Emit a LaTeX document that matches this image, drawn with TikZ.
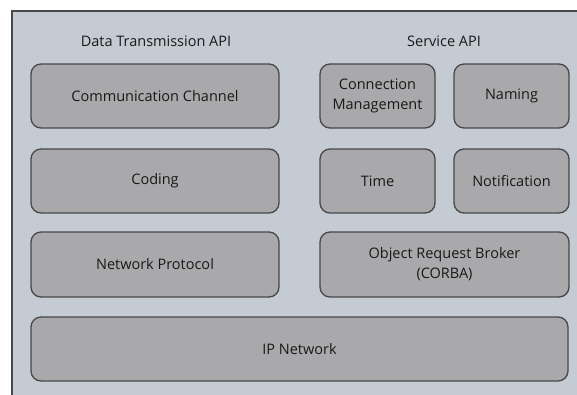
\documentclass[tikz,border=0pt]{standalone}
\usepackage{fontspec}
\setmainfont{Open Sans}
\definecolor{bgc}{HTML}{C5CBD3}
\definecolor{boxc}{HTML}{A9A9AB}
\definecolor{linec}{HTML}{474747}
\begin{document}
\begin{tikzpicture}[x=1pt,y=-1pt,
  layer/.style={draw=linec, line width=1.3pt, fill=boxc, rounded corners=10pt},
  lbl/.style={font=\fontsize{14.5}{20}\selectfont, text=black!90, align=center},
  ttl/.style={font=\fontsize{14.5}{18}\selectfont, text=black!90}]
\useasboundingbox (0,0) rectangle (577,394);
\fill[white] (0,0) rectangle (577,394);
\draw[linec, line width=1.2pt, fill=bgc] (12,11) rectangle (590,410);
\node[ttl] (dta) at (156,41) {Data Transmission API};
\node[ttl] (sapi) at (444,41) {Service API};
\draw[layer] (31,64) rectangle (279,128) node[lbl, midway] (cc) {Communication Channel};
\draw[layer] (31,149) rectangle (279,213) node[lbl, midway] (cod) {Coding};
\draw[layer] (31,232) rectangle (279,297) node[lbl, midway] (np) {Network Protocol};
\draw[layer] (31,317) rectangle (568,381) node[lbl, midway] (ip) {IP Network};
\draw[layer] (320,64) rectangle (435,128) node[lbl, midway] (cm) {Connection\\Management};
\draw[layer] (454,64) rectangle (569,128) node[lbl, midway] (nam) {Naming};
\draw[layer] (320,149) rectangle (435,213) node[lbl, midway] (tim) {Time};
\draw[layer] (454,149) rectangle (569,213) node[lbl, midway] (not) {Notification};
\draw[layer] (320,232) rectangle (569,297) node[lbl, midway] (orb) {Object Request Broker\\(CORBA)};
\end{tikzpicture}
\end{document}
